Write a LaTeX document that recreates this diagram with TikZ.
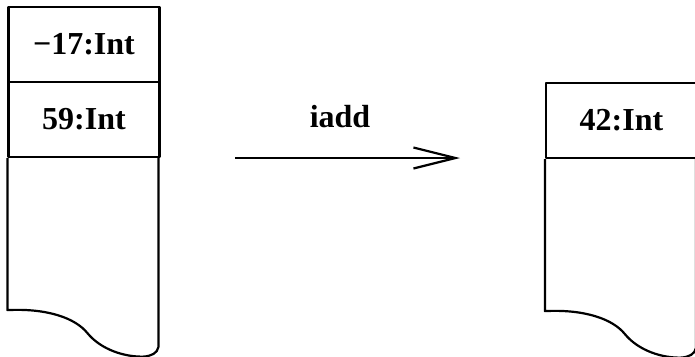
\documentclass[tikz,border=0pt]{standalone}
\usepackage{fontspec}
\setmainfont{Liberation Serif}
\usetikzlibrary{arrows.meta,calc}

\tikzset{
  stroke/.style={line width=2.2pt, line join=round},
  cell/.style={stroke, draw, rectangle, minimum width=151pt, minimum height=75pt,
    inner sep=0pt, font=\fontsize{32}{38}\selectfont\bfseries},
  lbl/.style={font=\fontsize{32}{38}\selectfont\bfseries, inner sep=0pt},
  % torn-off lower part of a stack, drawn from the bottom-left corner of its last cell
  stackbody/.pic={
    \draw[stroke] (0,0) -- (0,152)
      .. controls (40,150) and (68,160) .. (80,175)
      .. controls (94,192) and (118,199) .. (136,198.5)
      .. controls (144,198) and (150,195) .. (151,189) -- (151,0);
  }
}

\begin{document}
\begin{tikzpicture}[x=1pt,y=-1pt]
  \useasboundingbox (0,0) rectangle (695,356);

  % operand stack before the instruction
  \node[cell] (a1) at (84,44.5) {−17:Int};
  \node[cell] (a2) at (84,119.5) {59:Int};
  \pic at (a2.south west) {stackbody};

  % operand stack after the instruction
  \node[cell] (b1) at (621.5,120.5) {42:Int};
  \pic at (b1.south west) {stackbody};

  % the instruction
  \coordinate (from) at (235,158);
  \coordinate (to) at (460,158);
  \draw[stroke, -{Straight Barb[length=42pt, width=21pt]}] (from) -- (to);
  \node[lbl] (op) at (340,117) {iadd};
\end{tikzpicture}
\end{document}
